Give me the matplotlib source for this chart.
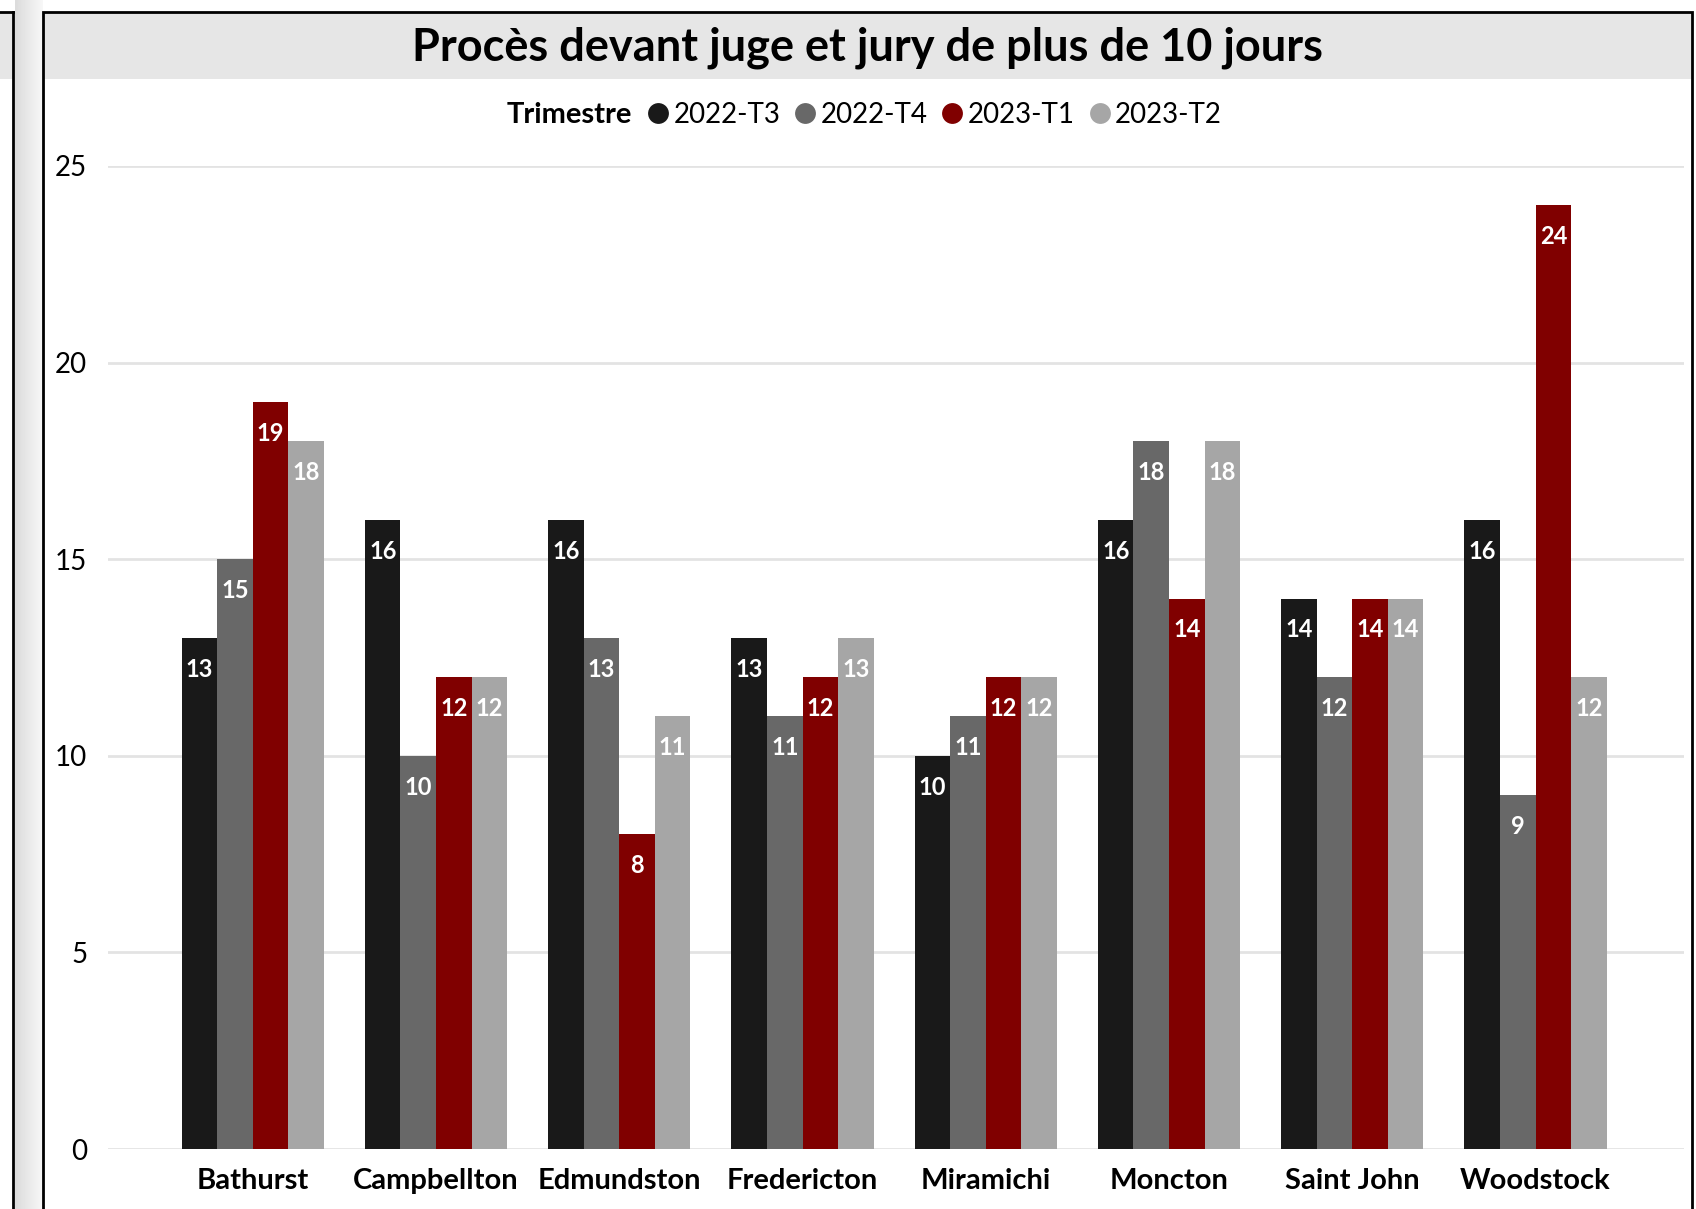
import numpy as np
import matplotlib.pyplot as plt
from matplotlib.patches import Rectangle
from matplotlib.lines import Line2D

W, H = 1696, 1209

CITIES = ["Bathurst", "Campbellton", "Edmundston", "Fredericton",
          "Miramichi", "Moncton", "Saint John", "Woodstock"]
QUARTERS = ["2022-T3", "2022-T4", "2023-T1", "2023-T2"]
T3_2022 = [13, 16, 16, 13, 10, 16, 14, 16]
T4_2022 = [15, 10, 13, 11, 11, 18, 12, 9]
T1_2023 = [19, 12, 8, 12, 12, 14, 14, 24]
T2_2023 = [18, 12, 11, 13, 12, 18, 14, 12]
COLORS = ["#191919", "#686868", "#800000", "#a6a6a6"]
Y_TICKS = [0, 5, 10, 15, 20, 25]

plt.rcParams["font.family"] = ["Lato", "DejaVu Sans"]


def fx(px):
    return px / W


def fy(py):
    return 1 - py / H


fig = plt.figure(figsize=(W / 100, H / 100), dpi=100)
fig.patch.set_facecolor("white")

# left neighbour panel + shadow strip
grad = fig.add_axes([fx(15), 0, fx(43) - fx(15), 1])
grad.imshow(np.linspace(0.86, 0.97, 50)[None, :], cmap="gray", vmin=0, vmax=1,
            aspect="auto", extent=[0, 1, 0, 1])
grad.axis("off")
fig.add_artist(Rectangle((0, fy(79)), fx(13), fy(12) - fy(79),
                         transform=fig.transFigure, facecolor="#e6e6e6",
                         edgecolor="none"))
fig.add_artist(Line2D([fx(13), fx(13)], [0, fy(12)], transform=fig.transFigure,
                      color="black", lw=2))
fig.add_artist(Line2D([0, fx(13)], [fy(12), fy(12)], transform=fig.transFigure,
                      color="black", lw=2))

# chart frame + title band
fig.add_artist(Rectangle((fx(43), fy(79)), fx(1692) - fx(43), fy(12) - fy(79),
                         transform=fig.transFigure, facecolor="#e6e6e6",
                         edgecolor="none"))
fig.add_artist(Rectangle((fx(43), -0.01), fx(1692) - fx(43), fy(12) + 0.01,
                         transform=fig.transFigure, facecolor="none",
                         edgecolor="black", lw=2))
fig.text(fx(868), fy(48), "Procès devant juge et jury de plus de 10 jours",
         ha="center", va="center", fontsize=32.5, fontweight="bold")

ax = fig.add_axes([fx(108), fy(1149), fx(1684) - fx(108), fy(166) - fy(1149)])
series = [T3_2022, T4_2022, T1_2023, T2_2023]
x = np.arange(len(CITIES))
bw = 0.194
for i, (vals, name, col) in enumerate(zip(series, QUARTERS, COLORS)):
    pos = x + (i - 1.5) * bw
    bars = ax.bar(pos, vals, width=bw, color=col, label=name, zorder=3)
    for b, v in zip(bars, vals):
        ax.annotate(str(v), (b.get_x() + b.get_width() / 2, v),
                    xytext=(0, -22.5), textcoords="offset points",
                    ha="center", va="center", color="white",
                    fontsize=17, fontweight="bold", zorder=4)

ax.set_xlim(-0.79, 7.81)
ax.set_ylim(0, 25)
ax.set_yticks(Y_TICKS)
ax.set_xticks(x)
ax.set_xticklabels(CITIES, fontweight="bold")
ax.tick_params(axis="x", length=0, pad=14, labelsize=21)
ax.tick_params(axis="y", length=0, pad=15, labelsize=20)
ax.grid(axis="y", color="#e3e3e3", lw=2, zorder=0)
for s in ax.spines.values():
    s.set_visible(False)
ax.set_facecolor("none")

handles = [Line2D([], [], marker="o", ls="none", markersize=15,
                  markerfacecolor=c, markeredgecolor="none") for c in COLORS]
fig.legend(handles, QUARTERS, loc="center", bbox_to_anchor=(fx(933), fy(115)),
           ncol=4, frameon=False, fontsize=20, handletextpad=0.05,
           columnspacing=0.4, handlelength=1.0)
fig.text(fx(632), fy(115), "Trimestre", ha="right", va="center",
         fontsize=21, fontweight="bold")

fig.savefig("out.png", dpi=100)
